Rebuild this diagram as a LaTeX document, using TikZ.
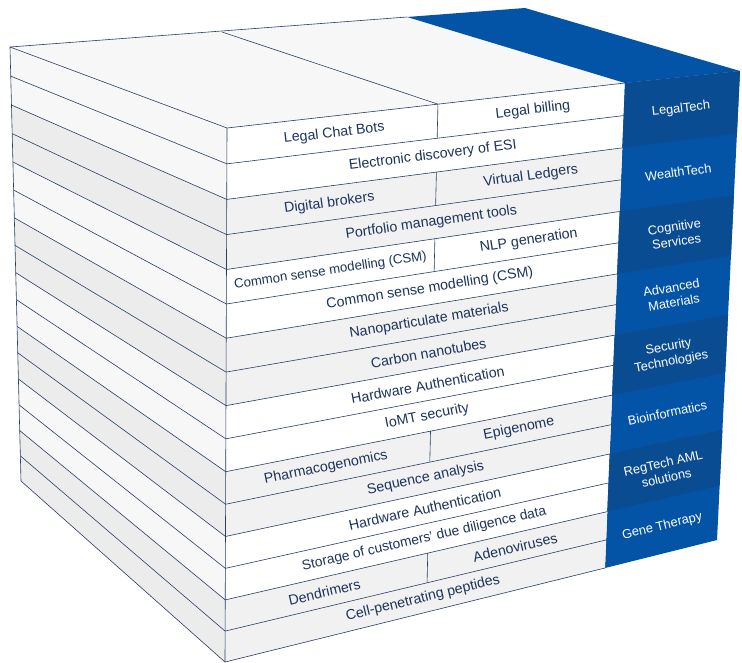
\documentclass[tikz,border=0pt]{standalone}
\usepackage{fontspec}
\setmainfont{Liberation Sans}
\usetikzlibrary{calc}

\definecolor{navy}{RGB}{27,52,92}
\definecolor{lineblue}{RGB}{40,62,100}
\definecolor{bluedark}{RGB}{9,76,146}
\definecolor{bluemid}{RGB}{3,83,167}
\definecolor{rowgray}{RGB}{241,241,241}
\definecolor{sidelight}{RGB}{247,247,247}
\definecolor{sidedark}{RGB}{236,236,236}

\begin{document}
\begin{tikzpicture}
		[x=1pt,y=-1pt,
		edge/.style={draw=lineblue,line width=0.6pt},
		item/.style={sloped,text=navy,inner sep=0pt,font=\fontsize{14.2}{16}\selectfont},
		field/.style={sloped,text=white,inner sep=0pt,align=center,font=\fontsize{12.8}{15}\selectfont}]
		\useasboundingbox (0,0) rectangle (742,662);

		% corners of the block
		\coordinate (FTL) at (227,128);
		\coordinate (FBL) at (225,662);
		\coordinate (FTR) at (625,83);
		\coordinate (FBR) at (605,568);
		\coordinate (BTR) at (740,71);
		\coordinate (BBR) at (717,540);
		\coordinate (LTL) at (10,47);
		\coordinate (LBL) at (21,481);
		\coordinate (TBL) at (407,17);
		\coordinate (TBR) at (525,8);
		\coordinate (TDV) at (222,32);

		% layer boundaries
		\foreach \i in {0,...,16}{
			\pgfmathsetmacro\f{(36*\i-\i*(\i-1)/6)/536}
			\coordinate (l\i) at ($(FTL)!\f!(FBL)$);
			\coordinate (r\i) at ($(FTR)!\f!(FBR)$);
			\coordinate (b\i) at ($(BTR)!\f!(BBR)$);
			\coordinate (k\i) at ($(LTL)!\f!(LBL)$);
		}

		% faces
		\fill[sidelight] (LTL) -- (TBL) -- (FTR) -- (FTL) -- cycle;
		\fill[bluemid] (TBL) -- (TBR) -- (BTR) -- (FTR) -- cycle;
		\fill[white] (l0) -- (r0) -- (r16) -- (l16) -- cycle;
		\fill[sidelight] (k0) -- (l0) -- (l16) -- (k16) -- cycle;
		\fill[bluemid] (r0) -- (b0) -- (b16) -- (r16) -- cycle;
		\foreach \i in {1,...,16}{
			\pgfmathtruncatemacro\j{\i-1}
			\pgfmathtruncatemacro\p{mod(floor(\j/2),2)}
			\coordinate (lm\i) at ($(l\j)!.5!(l\i)$);
			\coordinate (rm\i) at ($(r\j)!.5!(r\i)$);
			\ifnum\p=1
				\fill[rowgray] (l\j) -- (r\j) -- (r\i) -- (l\i) -- cycle;
				\fill[sidedark] (k\j) -- (l\j) -- (l\i) -- (k\i) -- cycle;
			\fi
		}
		\foreach \a/\b in {0/2,4/6,8/10,12/14}
			\fill[bluedark] (r\a) -- (b\a) -- (b\b) -- (r\b) -- cycle;

		% lines
		\foreach \i in {0,...,16}
			\draw[edge] (k\i) -- (l\i) -- (r\i);
		\draw[edge] (LTL) -- (LBL);
		\draw[edge] (FTL) -- (FBL);
		\draw[edge] (LTL) -- (TBL);
		\draw[edge] (TDV) -- ($(l0)!.53!(r0)$);
		\foreach \i/\j in {1/0,3/2,5/4,11/10,15/14}
			\draw[edge] ($(l\j)!.53!(r\j)$) -- ($(l\i)!.53!(r\i)$);

		% layer texts
		\path (lm1) -- (rm1) node [item,pos=.27] (chat) {Legal Chat Bots}
			node [item,pos=.77] (billing) {Legal billing};
		\path (lm2) -- (rm2) node [item,pos=.52] (esi) {Electronic discovery of ESI};
		\path (lm3) -- (rm3) node [item,pos=.26] (brokers) {Digital brokers}
			node [item,pos=.77] (ledgers) {Virtual Ledgers};
		\path (lm4) -- (rm4) node [item,pos=.52] (portfolio) {Portfolio management tools};
		\path (lm5) -- (rm5) node [item,pos=.265,font=\fontsize{13.2}{15}\selectfont] (csma) {Common sense modelling (CSM)}
			node [item,pos=.77] (nlp) {NLP generation};
		\path (lm6) -- (rm6) node [item,pos=.52] (csmb) {Common sense modelling (CSM)};
		\path (lm7) -- (rm7) node [item,pos=.52] (nano) {Nanoparticulate materials};
		\path (lm8) -- (rm8) node [item,pos=.52] (carbon) {Carbon nanotubes};
		\path (lm9) -- (rm9) node [item,pos=.52] (hwa) {Hardware Authentication};
		\path (lm10) -- (rm10) node [item,pos=.52] (iomt) {IoMT security};
		\path (lm11) -- (rm11) node [item,pos=.26] (pharma) {Pharmacogenomics}
			node [item,pos=.76] (epi) {Epigenome};
		\path (lm12) -- (rm12) node [item,pos=.52] (seq) {Sequence analysis};
		\path (lm13) -- (rm13) node [item,pos=.52] (hwb) {Hardware Authentication};
		\path (lm14) -- (rm14) node [item,pos=.52,font=\fontsize{13.8}{16}\selectfont] (storage) {Storage of customers' due diligence data};
		\path (lm15) -- (rm15) node [item,pos=.26] (dend) {Dendrimers}
			node [item,pos=.76] (adeno) {Adenoviruses};
		\path (lm16) -- (rm16) node [item,pos=.52] (cell) {Cell-penetrating peptides};

		% field labels
		\path (r1) -- (b1) node [field,midway] (legal) {LegalTech};
		\path (r3) -- (b3) node [field,midway] (wealth) {WealthTech};
		\path (r5) -- (b5) node [field,midway] (cognitive) {Cognitive\\Services};
		\path (r7) -- (b7) node [field,midway] (materials) {Advanced\\Materials};
		\path (r9) -- (b9) node [field,midway] (security) {Security\\Technologies};
		\path (r11) -- (b11) node [field,midway] (bio) {Bioinformatics};
		\path (r13) -- (b13) node [field,midway] (regtech) {RegTech AML\\solutions};
		\path (r15) -- (b15) node [field,midway] (gene) {Gene Therapy};
	\end{tikzpicture}
\end{document}
